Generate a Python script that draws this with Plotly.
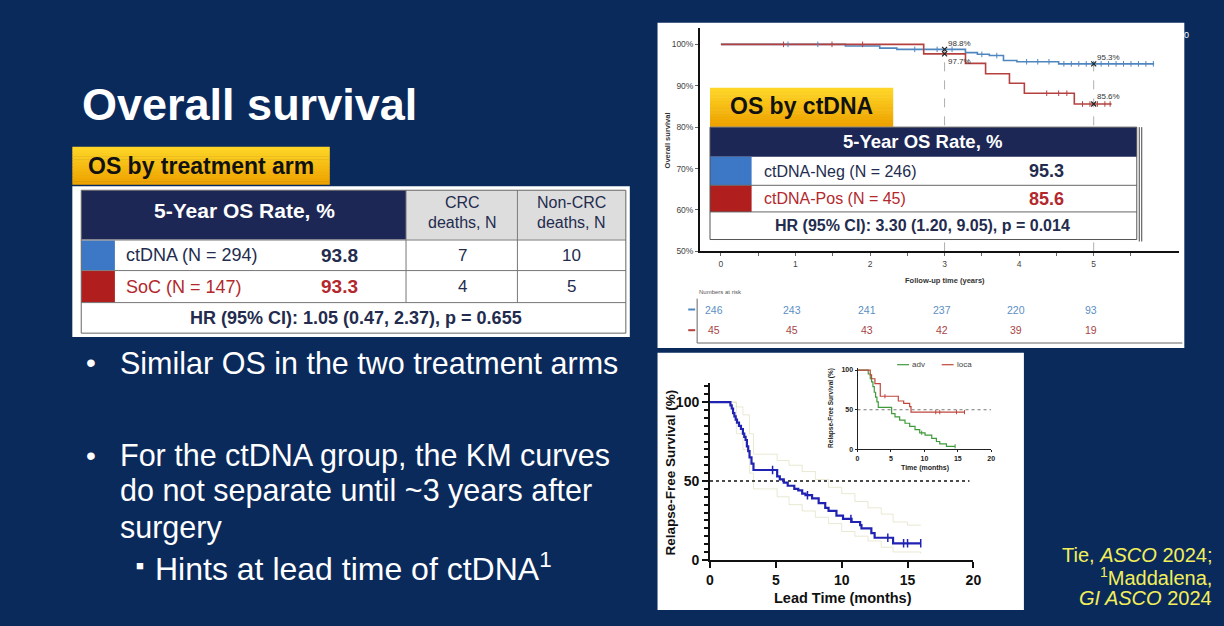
import plotly.graph_objects as go

W, H = 1224, 626
def px(x): return x / W
def py(y): return 1 - y / H

FONT = "Liberation Sans, Arial, Helvetica, sans-serif"
BG = "#0b2a5c"
NAVY = "#1c2756"
TXT = "#232c4e"
RED_T = "#b3282d"
BLUE_SQ = "#3c78c5"
RED_SQ = "#b01e1e"
YEL = "#f2ef5a"

# ---------------- data ----------------
# OS by treatment arm
arm_labels = ["ctDNA (N = 294)", "SoC (N = 147)"]
arm_os5 = ["93.8", "93.3"]
arm_crc = ["7", "4"]
arm_noncrc = ["10", "5"]
arm_hr = "HR (95% CI): 1.05 (0.47, 2.37), p = 0.655"

# OS by ctDNA
ct_labels = ["ctDNA-Neg (N = 246)", "ctDNA-Pos (N = 45)"]
ct_os5 = ["95.3", "85.6"]
ct_hr = "HR (95% CI): 3.30 (1.20, 9.05), p = 0.014"

# KM overall survival by ctDNA (years, %)
neg_t = [0, 1.67, 2.13, 2.36, 3.28, 3.44, 3.60, 3.79, 3.97, 4.53, 5.81]
neg_s = [100, 99.6, 99.1, 98.8, 98.0, 97.6, 97.3, 96.1, 95.8, 95.3, 95.3]
pos_t = [0, 2.72, 3.28, 3.55, 3.87, 4.07, 4.74, 5.24]
pos_s = [100, 97.7, 95.4, 92.9, 90.6, 88.2, 85.6, 85.6]
neg_cens_t = [0.9, 1.3, 2.6, 2.9, 3.1, 3.5, 3.7, 4.1, 4.25, 4.4, 4.6, 4.7, 4.8, 4.9, 5.0, 5.1, 5.2, 5.3, 5.4, 5.5, 5.6, 5.7, 5.8]
neg_cens_s = [100, 100, 98.8, 98.8, 98.8, 97.6, 97.3, 95.8, 95.8, 95.8, 95.3, 95.3, 95.3, 95.3, 95.3, 95.3, 95.3, 95.3, 95.3, 95.3, 95.3, 95.3, 95.3]
pos_cens_t = [0.84, 1.49, 1.9, 4.37, 4.53, 4.64, 4.85, 4.95, 5.05, 5.15, 5.22]
pos_cens_s = [100, 100, 100, 88.2, 88.2, 88.2, 85.6, 85.6, 85.6, 85.6, 85.6]
landmark_years = [3, 5]
landmark_neg = [98.8, 95.3]
landmark_pos = [97.7, 85.6]
risk_years = [0, 1, 2, 3, 4, 5]
risk_neg = [246, 243, 241, 237, 220, 93]
risk_pos = [45, 45, 43, 42, 39, 19]
os_ticks = [50, 60, 70, 80, 90, 100]

# Lead time KM (months, %)
lead_t = [0, 1.55, 1.65, 1.75, 1.85, 1.95, 2.05, 2.2, 2.35, 2.5, 2.6, 2.7, 2.8, 2.9, 3.0, 3.15, 3.3,
          5.1, 5.3, 5.6, 5.9, 6.4, 6.7, 7.0, 7.25, 7.75, 8.25, 8.75, 9.0, 9.6, 10.1, 10.75, 11.4, 11.5,
          12.25, 12.5, 13.9, 16.0]
lead_s = [100, 98, 96, 93, 91, 89, 87, 85, 83, 80, 78, 76, 72, 69, 65, 61, 57,
          53, 51, 49, 47, 45, 44, 42, 41, 39, 36, 33, 31, 28, 26, 24, 22, 20,
          17, 14, 10.5, 10.5]
lead_cens_t = [4.75, 7.4, 10.7, 13.5, 14.7, 15.0, 16.0]
lead_cens_s = [57, 41, 26, 14, 10.5, 10.5, 10.5]
lead_up_t = [0, 1.55, 2.0, 2.5, 3.0, 3.3, 5.1, 6.0, 7.0, 8.0, 9.0, 10.0, 11.0, 12.0, 13.0, 13.9, 15.0, 16.0]
lead_up_s = [100, 100, 97, 92, 80, 67, 63, 60, 56, 51, 46, 42, 37, 33, 29, 24, 22, 22]
lead_lo_t = [0, 1.55, 2.0, 2.5, 3.0, 3.3, 5.1, 6.0, 7.0, 8.0, 9.0, 10.0, 11.0, 12.0, 13.0, 13.9, 16.0]
lead_lo_s = [100, 100, 80, 70, 55, 45, 40, 35, 31, 27, 23, 18, 15, 12, 8, 5, 4]
median_ref = 50

# Inset: adv vs loca
adv_t = [0, 1.6, 1.9, 2.1, 2.3, 2.5, 2.7, 2.9, 3.1, 5.1, 5.6, 6.3, 7.1, 7.8, 8.6, 9.3, 10.1, 11.1, 11.8, 12.3, 13.3, 14.6]
adv_s = [100, 95, 89, 85, 79, 72, 66, 60, 53, 45, 41, 37, 33, 29, 25, 21, 18, 14, 10, 7, 4, 4]
loca_t = [0, 1.9, 2.1, 2.6, 3.4, 6.1, 6.9, 7.8, 8.0, 16.0]
loca_s = [100, 94, 89, 83, 67, 61, 58, 54, 47, 47]
loca_cens_t = [4.1, 11.7, 12.3, 14.8, 16.0]
loca_cens_s = [67, 47, 47, 47, 47]
adv_cens_t = [9.6, 14.6]
adv_cens_s = [21, 4]

fig = go.Figure()

# ---------- top KM ----------
fig.add_trace(go.Scatter(x=neg_t, y=neg_s, mode="lines", line=dict(color="#4f86c0", width=1.6, shape="hv"),
                         xaxis="x", yaxis="y", hoverinfo="skip"))
fig.add_trace(go.Scatter(x=pos_t, y=pos_s, mode="lines", line=dict(color="#b5413f", width=1.6, shape="hv"),
                         xaxis="x", yaxis="y", hoverinfo="skip"))
fig.add_trace(go.Scatter(x=neg_cens_t, y=neg_cens_s, mode="markers",
                         marker=dict(symbol="line-ns", size=4, line=dict(color="#4f86c0", width=1)),
                         xaxis="x", yaxis="y", hoverinfo="skip"))
fig.add_trace(go.Scatter(x=pos_cens_t, y=pos_cens_s, mode="markers",
                         marker=dict(symbol="line-ns", size=4, line=dict(color="#b5413f", width=1)),
                         xaxis="x", yaxis="y", hoverinfo="skip"))
for yr, v in zip(landmark_years, landmark_neg):
    fig.add_trace(go.Scatter(x=[yr, yr], y=[os_ticks[0], v], mode="lines",
                             line=dict(color="#999", width=0.8, dash="dash"),
                             xaxis="x", yaxis="y", hoverinfo="skip"))
fig.add_trace(go.Scatter(x=landmark_years + landmark_years, y=landmark_neg + landmark_pos, mode="markers",
                         marker=dict(symbol="x-thin", size=5, line=dict(color="#222", width=1.2)),
                         xaxis="x", yaxis="y", hoverinfo="skip"))

# ---------- bottom KM ----------
fig.add_trace(go.Scatter(x=lead_up_t, y=lead_up_s, mode="lines", line=dict(color="rgba(215,215,175,0.55)", width=1, shape="hv"),
                         xaxis="x2", yaxis="y2", hoverinfo="skip"))
fig.add_trace(go.Scatter(x=lead_lo_t, y=lead_lo_s, mode="lines", line=dict(color="rgba(215,215,175,0.55)", width=1, shape="hv"),
                         xaxis="x2", yaxis="y2", hoverinfo="skip"))
fig.add_trace(go.Scatter(x=[0, 19.7], y=[median_ref, median_ref], mode="lines", line=dict(color="#111", width=1.5, dash="dot"),
                         xaxis="x2", yaxis="y2", hoverinfo="skip"))
fig.add_trace(go.Scatter(x=lead_t, y=lead_s, mode="lines", line=dict(color="#2022b2", width=2.2, shape="hv"),
                         xaxis="x2", yaxis="y2", hoverinfo="skip"))
fig.add_trace(go.Scatter(x=lead_cens_t, y=lead_cens_s, mode="markers",
                         marker=dict(symbol="line-ns", size=6, line=dict(color="#2022b2", width=1.5)),
                         xaxis="x2", yaxis="y2", hoverinfo="skip"))

# ---------- inset ----------
fig.add_trace(go.Scatter(x=[0, 20], y=[median_ref, median_ref], mode="lines", line=dict(color="#555", width=0.8, dash="dot"),
                         xaxis="x3", yaxis="y3", hoverinfo="skip"))
fig.add_trace(go.Scatter(x=adv_t, y=adv_s, mode="lines", line=dict(color="#3f9a3a", width=1.2, shape="hv"),
                         xaxis="x3", yaxis="y3", hoverinfo="skip"))
fig.add_trace(go.Scatter(x=loca_t, y=loca_s, mode="lines", line=dict(color="#c0463c", width=1.2, shape="hv"),
                         xaxis="x3", yaxis="y3", hoverinfo="skip"))
fig.add_trace(go.Scatter(x=loca_cens_t, y=loca_cens_s, mode="markers",
                         marker=dict(symbol="line-ns", size=3, line=dict(color="#c0463c", width=1)),
                         xaxis="x3", yaxis="y3", hoverinfo="skip"))
fig.add_trace(go.Scatter(x=adv_cens_t, y=adv_cens_s, mode="markers",
                         marker=dict(symbol="line-ns", size=3, line=dict(color="#3f9a3a", width=1)),
                         xaxis="x3", yaxis="y3", hoverinfo="skip"))

shapes = []
def rect(x0, y0, x1, y1, fill, line=None, lw=0, layer="above"):
    shapes.append(dict(type="rect", xref="paper", yref="paper", x0=px(x0), x1=px(x1), y0=py(y1), y1=py(y0),
                       fillcolor=fill, line=dict(color=line or "rgba(0,0,0,0)", width=lw), layer=layer))
def hline(x0, x1, y, color, w=1, layer="above"):
    shapes.append(dict(type="line", xref="paper", yref="paper", x0=px(x0), x1=px(x1), y0=py(y), y1=py(y),
                       line=dict(color=color, width=w), layer=layer))
def vline(x, y0, y1, color, w=1, layer="above"):
    shapes.append(dict(type="line", xref="paper", yref="paper", x0=px(x), x1=px(x), y0=py(y0), y1=py(y1),
                       line=dict(color=color, width=w), layer=layer))
def gold(x0, y0, x1, y1, n=12):
    top = (255, 214, 40); bot = (238, 163, 0)
    for i in range(n):
        f = i / (n - 1)
        c = tuple(int(top[k] + (bot[k] - top[k]) * f) for k in range(3))
        rect(x0, y0 + (y1 - y0) * i / n, x1, y0 + (y1 - y0) * (i + 1) / n + 0.5, "rgb(%d,%d,%d)" % c)

# panels
rect(660, 22, 1192, 352, "white", layer="below")
rect(660, 357, 1030, 618, "white", layer="below")

# left table
gold(69, 148, 329, 186)
rect(69, 188, 632, 341, "white")
rect(78, 192, 406, 242, NAVY)
rect(406, 192, 518, 242, "#dddddd")
rect(519, 192, 628, 242, "#dddddd")
rect(78, 243, 112, 273, BLUE_SQ)
rect(78, 274, 112, 306, RED_SQ)
for yy in [242.5, 273.5, 306]:
    hline(78, 628, yy, "#777")
vline(406, 192, 306, "#777")
vline(518.5, 192, 306, "#777")
rect(78, 192, 628, 337, "rgba(0,0,0,0)", "#666", 1)

# top-right overlay table
gold(713, 88, 898, 127)
rect(713, 128, 1144, 242, "white")
rect(713, 128, 1144, 158, NAVY)
rect(713, 158, 755, 187, BLUE_SQ)
rect(713, 187, 755, 214, RED_SQ)
hline(713, 1144, 187, "#666")
hline(713, 1144, 214, "#666")
rect(713, 128, 1144, 242, "rgba(0,0,0,0)", "#555", 1)
vline(1146.5, 128, 244, "#444", 1)
vline(1149, 128, 244, "#444", 1)
# risk table frame
vline(700, 302, 347, "#666", 1)
hline(700, 1190, 347, "#666", 1)
hline(691, 698, 313, "#4f86c0", 2)
hline(691, 698, 334, "#b5413f", 2)
# inset legend
hline(902, 914, 369, "#3f9a3a", 1.2)
hline(947, 959, 369, "#c0463c", 1.2)

ann = []
def txt(x, y, s, size, color, bold=False, xanchor="left", angle=0):
    if bold:
        s = "<b>" + s + "</b>"
    ann.append(dict(x=px(x), y=py(y), xref="paper", yref="paper", text=s, showarrow=False,
                    xanchor=xanchor, yanchor="middle", textangle=angle,
                    font=dict(family=FONT, size=size, color=color)))

# left side text
txt(77, 105, "Overall survival", 45, "white", True)
txt(199, 167, "OS by treatment arm", 23, "#111", True, "center")
txt(243, 213, "5-Year OS Rate, %", 21, "white", True, "center")
txt(463, 204, "CRC", 16, TXT, False, "center")
txt(463, 225, "deaths, N", 16, TXT, False, "center")
txt(573, 204, "Non-CRC", 16, TXT, False, "center")
txt(573, 225, "deaths, N", 16, TXT, False, "center")
row_y = [258, 290]
row_col = [TXT, RED_T]
for i in range(2):
    txt(121, row_y[i], arm_labels[i], 18, row_col[i])
    txt(339, row_y[i], arm_os5[i], 19, row_col[i], True, "center")
    txt(463, row_y[i], arm_crc[i], 17, TXT, False, "center")
    txt(573, row_y[i], arm_noncrc[i], 17, TXT, False, "center")
txt(355, 322, arm_hr, 18, TXT, True, "center")

txt(88, 367, "•", 28, "white", False, "center")
txt(115, 367, "Similar OS in the two treatment arms", 30.5, "white")
txt(88, 461, "•", 28, "white", False, "center")
txt(115, 461, "For the ctDNA group, the KM curves", 30.5, "white")
txt(115, 497, "do not separate until ~3 years after", 30.5, "white")
txt(115, 534, "surgery", 30.5, "white")
txt(137, 573, "■", 13, "white", False, "center")
txt(150, 574, "Hints at lead time of ctDNA<sup>1</sup>", 32, "white")

# top-right chart text
txt(805, 107, "OS by ctDNA", 23, "#111", True, "center")
txt(928, 143, "5-Year OS Rate, %", 18.5, "white", True, "center")
ct_y = [172.5, 200.5]
for i in range(2):
    txt(765, ct_y[i], ct_labels[i], 16, row_col[i])
    txt(1053, ct_y[i], ct_os5[i], 18, row_col[i], True, "center")
txt(928, 228, ct_hr, 16, TXT, True, "center")
txt(671, 141, "Overall survival", 7.5, "#333", True, "center", -90)
txt(950, 284, "Follow-up time (years)", 7.5, "#333", True, "center")
txt(700, 295, "Numbers at risk", 6, "#555")
txt(1190, 34, "0", 9, "white")
for yr, a, b in zip(risk_years, risk_neg, risk_pos):
    ann.append(dict(x=yr, xref="x", y=py(313), yref="paper", text=str(a), showarrow=False, xanchor="center",
                    yanchor="middle", xshift=(-7 if yr == 0 else -3), font=dict(family=FONT, size=10.5, color="#5b8fc4")))
    ann.append(dict(x=yr, xref="x", y=py(334), yref="paper", text=str(b), showarrow=False, xanchor="center",
                    yanchor="middle", xshift=(-7 if yr == 0 else -3), font=dict(family=FONT, size=10.5, color="#a94444")))
for yr, v, ys in zip(landmark_years, landmark_neg, [6, 6]):
    ann.append(dict(x=yr, y=v, xref="x", yref="y", text=f"{v}%", showarrow=False, xanchor="left", yanchor="middle",
                    xshift=1, yshift=ys, font=dict(family=FONT, size=8, color="#333")))
for yr, v, ys in zip(landmark_years, landmark_pos, [-8, 7]):
    ann.append(dict(x=yr, y=v, xref="x", yref="y", text=f"{v}%", showarrow=False, xanchor="left", yanchor="middle",
                    xshift=1, yshift=ys, font=dict(family=FONT, size=8, color="#333")))

# bottom chart text
txt(673, 478, "Relapse-Free Survival (%)", 13.5, "#111", True, "center", -90)
txt(847, 606, "Lead Time (months)", 14.5, "#111", True, "center")
txt(835, 413, "Relapse-Free Survival (%)", 6.5, "#222", True, "center", -90)
txt(930, 474, "Time (months)", 7, "#222", True, "center")
txt(915, 369, "adv", 8, "#444")
txt(960, 369, "loca", 8, "#444")

# citation
txt(1222, 562, "Tie, <i>ASCO</i> 2024;", 20, YEL, False, "right")
txt(1222, 584, "<sup>1</sup>Maddalena,", 20, YEL, False, "right")
txt(1222, 606, "<i>GI ASCO</i> 2024", 20, YEL, False, "right")

ax_common = dict(showgrid=False, zeroline=False, showline=True, ticks="outside", fixedrange=True)
fig.update_layout(
    width=W, height=H, margin=dict(l=0, r=0, t=0, b=0), autosize=False,
    paper_bgcolor=BG, plot_bgcolor="rgba(0,0,0,0)", showlegend=False,
    font=dict(family=FONT),
    xaxis=dict(domain=[px(703), px(1187)], range=[-0.279, 6.149], anchor="y",
               tickvals=[0, 0.5, 1, 1.5, 2, 2.5, 3, 3.5, 4, 4.5, 5, 5.5],
               ticktext=["0", " ", "1", " ", "2", " ", "3", " ", "4", " ", "5", " "],
               linecolor="#111", linewidth=2, ticklen=3, tickcolor="#666",
               tickfont=dict(size=8.5, color="#444"), **ax_common),
    yaxis=dict(domain=[py(254), py(27)], range=[50, 104.05], anchor="x",
               tickvals=os_ticks, ticktext=[f"{v}%" for v in os_ticks],
               linecolor="#111", linewidth=2, ticklen=3, tickcolor="#666",
               tickfont=dict(size=8.5, color="#444"), **ax_common),
    xaxis2=dict(domain=[px(713), px(979)], range=[0, 20], anchor="y2",
                tickvals=[0, 5, 10, 15, 20], linecolor="#111", linewidth=2, ticklen=6, tickwidth=2, tickcolor="#111",
                tickfont=dict(size=14, color="#111", weight="bold"), **ax_common),
    yaxis2=dict(domain=[py(567), py(388)], range=[0, 111.9], anchor="x2",
                tickvals=[0, 50, 100], linecolor="#111", linewidth=2, ticklen=6, tickwidth=2, tickcolor="#111",
                minor=dict(dtick=5, ticklen=4, tickwidth=1.5, tickcolor="#111", ticks="outside"),
                tickfont=dict(size=14, color="#111", weight="bold"), **ax_common),
    xaxis3=dict(domain=[px(862), px(997)], range=[0, 20], anchor="y3",
                tickvals=[0, 5, 10, 15, 20], linecolor="#222", linewidth=1, ticklen=2, tickcolor="#222",
                tickfont=dict(size=7, color="#222", weight="bold"), **ax_common),
    yaxis3=dict(domain=[py(455), py(372)], range=[0, 103], anchor="x3",
                tickvals=[0, 50, 100], linecolor="#222", linewidth=1, ticklen=2, tickcolor="#222",
                tickfont=dict(size=7, color="#222", weight="bold"), **ax_common),
    shapes=shapes, annotations=ann,
)

post = ("var de=document.documentElement, b=document.body;"
        "de.style.margin='0';de.style.padding='0';de.style.overflow='hidden';de.style.background='" + BG + "';"
        "b.style.margin='0';b.style.padding='0';b.style.overflow='hidden';b.style.background='" + BG + "';"
        "var gd=document.getElementById('{plot_id}');gd.style.position='fixed';gd.style.left='0px';gd.style.top='0px';"
        "var vw=window.innerWidth, vh=window.innerHeight;"
        "if (vw>0 && vh>0 && (vw!==" + str(W) + " || vh!==" + str(H) + ")) {Plotly.relayout(gd,{width:vw,height:vh});}")
fig.write_html("out.html", config={"displayModeBar": False, "responsive": False}, post_script=post)
